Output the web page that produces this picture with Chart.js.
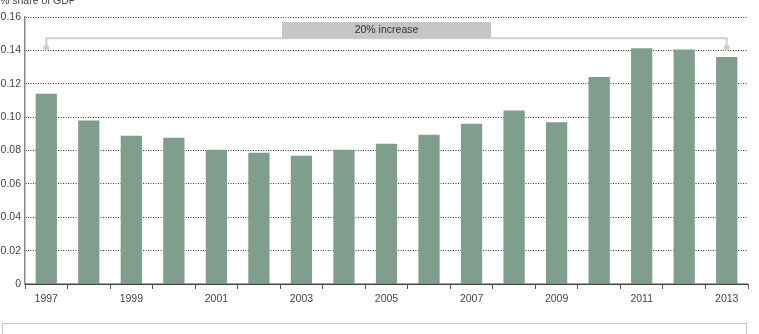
<!DOCTYPE html>
<html>
<head>
<meta charset="utf-8">
<script src="https://cdn.jsdelivr.net/npm/chart.js@4/dist/chart.umd.min.js"></script>
<style>
  html, body { margin: 0; padding: 0; background: #fff; }
  #wrap { position: relative; width: 759px; height: 334px; overflow: hidden; }
  #note-box { position: absolute; left: 2px; top: 323px; width: 745px; height: 30px; border: 1px solid #c4c4c4; box-sizing: border-box; }
</style>
</head>
<body>
<div id="wrap">
  <canvas id="chart" width="759" height="334"></canvas>
  <div id="note-box"></div>
</div>
<script>
// =============================
// Data
// =============================
const years = ["1997", "1998", "1999", "2000", "2001", "2002", "2003", "2004", "2005",
               "2006", "2007", "2008", "2009", "2010", "2011", "2012", "2013"];
const shareOfGdp = [0.114, 0.098, 0.0888, 0.0876, 0.0804, 0.0786, 0.0768, 0.0804, 0.084,
                    0.0895, 0.096, 0.104, 0.097, 0.124, 0.1412, 0.1405, 0.136];
const yTicks = [0, 0.02, 0.04, 0.06, 0.08, 0.10, 0.12, 0.14, 0.16];
const yTitle = "% share of GDP";
const bracketLabel = "20% increase";
const bracketFrom = "1997", bracketTo = "2013";
const bracketLevel = 0.1473, bracketDotLevel = 0.1415, bracketBoxTop = 0.157;

const FONT = "'Liberation Sans', Arial, sans-serif";

// =============================
// Annotation: bracket + label
// =============================
const bracketPlugin = {
  id: "bracket",
  afterDatasetsDraw(chart) {
    const { ctx, scales } = chart;
    const x = scales.x, y = scales.y;
    const x0 = x.getPixelForValue(years.indexOf(bracketFrom));
    const x1 = x.getPixelForValue(years.indexOf(bracketTo));
    const yl = y.getPixelForValue(bracketLevel);
    const yd = y.getPixelForValue(bracketDotLevel);
    const yb = y.getPixelForValue(bracketBoxTop);
    ctx.save();
    ctx.strokeStyle = "#cfcfcf";
    ctx.fillStyle = "#cfcfcf";
    ctx.lineWidth = 2;
    ctx.beginPath();
    ctx.moveTo(x0, yd);
    ctx.lineTo(x0, yl);
    ctx.lineTo(x1, yl);
    ctx.lineTo(x1, yd);
    ctx.stroke();
    [x0, x1].forEach(px => {
      ctx.beginPath();
      ctx.arc(px, yd, 3, 0, Math.PI * 2);
      ctx.fill();
    });
    // label box
    const mid = (x0 + x1) / 2;
    const w = 209;
    ctx.fillStyle = "#c6c6c6";
    ctx.fillRect(mid - w / 2, yb, w, yl - yb);
    ctx.fillStyle = "#333";
    ctx.font = "10.5px " + FONT;
    ctx.textAlign = "center";
    ctx.textBaseline = "middle";
    ctx.fillText(bracketLabel, mid, (yb + yl) / 2 + 0.5);
    ctx.restore();
  },
  afterDraw(chart) {
    const { ctx, scales } = chart;
    // solid baseline over the dotted zero gridline
    const y0 = scales.y.getPixelForValue(0);
    ctx.save();
    ctx.strokeStyle = "#444";
    ctx.lineWidth = 1;
    ctx.beginPath();
    ctx.moveTo(chart.chartArea.left, y0);
    ctx.lineTo(chart.chartArea.right, y0);
    ctx.stroke();
    ctx.fillStyle = "#444";
    ctx.font = "10.5px " + FONT;
    ctx.textAlign = "left";
    ctx.textBaseline = "alphabetic";
    ctx.fillText(yTitle, 0, 4);
    ctx.restore();
  }
};

// =============================
// Chart
// =============================
new Chart(document.getElementById("chart"), {
  type: "bar",
  data: {
    labels: years,
    datasets: [{
      data: shareOfGdp,
      backgroundColor: "#7f9e8d",
      barPercentage: 0.5,
      categoryPercentage: 1
    }]
  },
  options: {
    responsive: false,
    animation: false,
    layout: { padding: { top: 17, right: 11, bottom: 30, left: 0 } },
    plugins: { legend: { display: false }, tooltip: { enabled: false } },
    scales: {
      x: {
        offset: true,
        grid: { offset: true, drawOnChartArea: false, drawTicks: true, tickLength: 5, color: "#555" },
        border: { color: "#444", width: 1 },
        ticks: {
          autoSkip: false, maxRotation: 0, padding: 4, color: "#444",
          font: { family: FONT, size: 10.5 },
          callback: (v, i) => (i % 2 === 0 ? years[i] : "")
        },
        afterFit: s => { s.height = 20; }
      },
      y: {
        min: 0, max: 0.16,
        afterBuildTicks: s => { s.ticks = yTicks.map(v => ({ value: v })); },
        grid: { color: "#3a3a3a", lineWidth: 1, drawTicks: false },
        border: { color: "#888", width: 1.5, dash: [1, 1.5] },
        ticks: {
          padding: 4, color: "#444",
          font: { family: FONT, size: 10.5 },
          callback: v => (v === 0 ? "0" : v.toFixed(2))
        },
        afterFit: s => { s.width = 25; }
      }
    }
  },
  plugins: [bracketPlugin]
});
</script>
</body>
</html>
